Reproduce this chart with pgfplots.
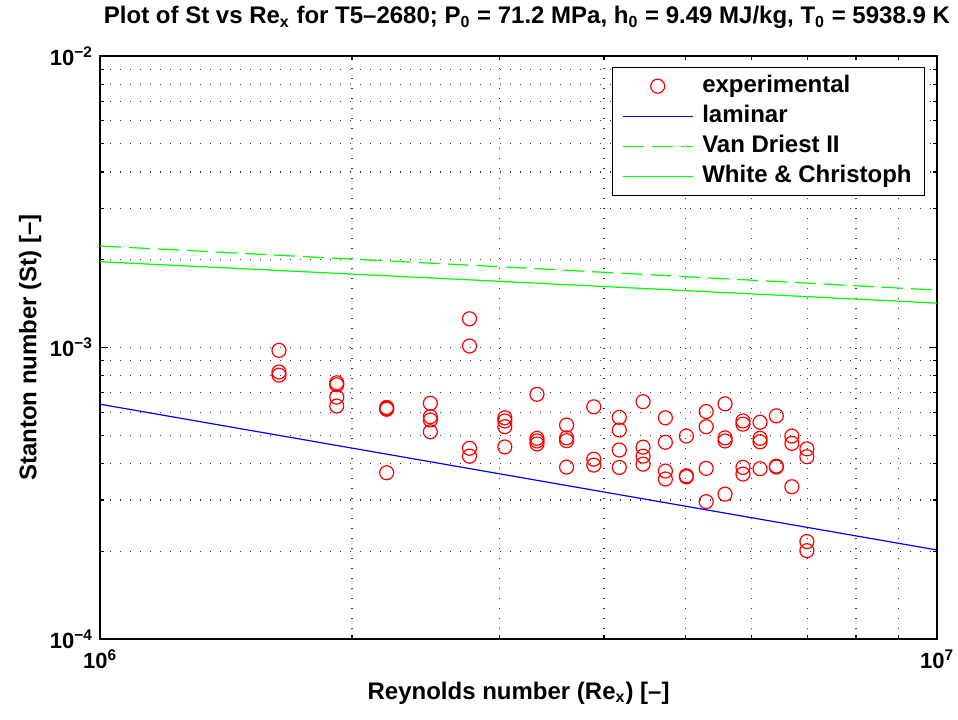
\documentclass[border=0pt]{standalone}
\usepackage{fontspec}
\setmainfont{Liberation Sans}
\usepackage{pgfplots}
\pgfplotsset{compat=1.18}
\begin{document}
\begin{tikzpicture}
\begin{axis}[
  width=418.5pt, height=291.5pt, scale only axis,
  xmode=log, ymode=log,
  xmin=1e6, xmax=1e7, ymin=1e-4, ymax=1e-2,
  xtick={1e6,1e7}, xticklabels={10\textsuperscript{6},10\textsuperscript{7}},
  ytick={1e-4,1e-3,1e-2},
  yticklabels={10\textsuperscript{−4},10\textsuperscript{−3},10\textsuperscript{−2}},
  minor xtick={2e6,3e6,4e6,5e6,6e6,7e6,8e6,9e6},
  minor ytick={2e-4,3e-4,4e-4,5e-4,6e-4,7e-4,8e-4,9e-4,2e-3,3e-3,4e-3,5e-3,6e-3,7e-3,8e-3,9e-3},
  tick label style={font=\fontsize{11}{13}\selectfont\bfseries},
  xticklabel style={yshift=-2pt},
  grid=both,
  major grid style={black!80, line width=0.6pt, dash pattern=on 0.6pt off 4.4pt},
  minor grid style={black!80, line width=0.6pt, dash pattern=on 0.6pt off 4.4pt},
  tick align=inside, major tick length=4pt, minor tick length=2pt,
  every tick/.style={black, line width=0.6pt},
  axis line style={line width=1pt},
  title={Plot of St vs Re\textsubscript{x} for T5–2680; P\textsubscript{0} = 71.2 MPa, h\textsubscript{0} = 9.49 MJ/kg, T\textsubscript{0} = 5938.9 K},
  title style={at={(axis description cs:0.51,1.045)}, anchor=center, font=\fontsize{12}{14}\selectfont\bfseries},
  xlabel={Reynolds number (Re\textsubscript{x}) [–]},
  xlabel style={at={(axis description cs:0.5,-0.0926)}, anchor=center, font=\fontsize{12}{14}\selectfont\bfseries},
  ylabel={Stanton number (St) [–]},
  ylabel style={at={(axis description cs:-0.0836,0.5)}, anchor=center, font=\fontsize{12}{14}\selectfont\bfseries},
  legend style={at={(axis description cs:0.9857,0.9817)}, anchor=north east,
    draw=black, line width=0.5pt, fill=white,
    font=\fontsize{12}{14}\selectfont\bfseries,
    inner xsep=5pt, inner ysep=2pt,
    nodes={inner sep=1.5pt, text height=9pt, text depth=3pt},
    /tikz/every odd column/.append style={column sep=3pt}},
  legend cell align=left,
  legend image code/.code={\draw[mark repeat=2,mark phase=2,#1] plot coordinates {(0pt,0pt) (17.5pt,0pt) (35pt,0pt)};},
]
\coordinate (SW) at (rel axis cs:0,0);
\addplot[only marks, mark=o, mark size=3.5pt, red, mark options={line width=0.6pt}] coordinates {
(1.636e6,9.78e-4) (1.636e6,8.24e-4) (1.636e6,8.04e-4)
(1.918e6,7.57e-4) (1.918e6,7.45e-4) (1.918e6,6.76e-4) (1.918e6,6.30e-4)
(2.200e6,6.23e-4) (2.200e6,6.18e-4) (2.200e6,6.14e-4) (2.200e6,3.72e-4)
(2.481e6,6.44e-4) (2.481e6,5.79e-4) (2.481e6,5.64e-4) (2.481e6,5.14e-4)
(2.763e6,1.255e-3) (2.763e6,1.012e-3) (2.763e6,4.51e-4) (2.763e6,4.24e-4)
(3.045e6,5.74e-4) (3.045e6,5.60e-4) (3.045e6,5.35e-4) (3.045e6,4.56e-4)
(3.327e6,6.91e-4) (3.327e6,4.88e-4) (3.327e6,4.78e-4) (3.327e6,4.67e-4)
(3.609e6,5.42e-4) (3.609e6,4.90e-4) (3.609e6,4.79e-4) (3.609e6,3.89e-4)
(3.890e6,6.26e-4) (3.890e6,4.14e-4) (3.890e6,3.95e-4)
(4.172e6,5.76e-4) (4.172e6,5.21e-4) (4.172e6,4.45e-4) (4.172e6,3.88e-4)
(4.454e6,6.52e-4) (4.454e6,4.55e-4) (4.454e6,4.24e-4) (4.454e6,3.98e-4)
(4.736e6,5.74e-4) (4.736e6,4.73e-4) (4.736e6,3.77e-4) (4.736e6,3.54e-4)
(5.018e6,4.97e-4) (5.018e6,3.63e-4) (5.018e6,3.60e-4)
(5.299e6,6.03e-4) (5.299e6,5.35e-4) (5.299e6,3.85e-4) (5.299e6,2.96e-4)
(5.581e6,6.41e-4) (5.581e6,4.90e-4) (5.581e6,4.78e-4) (5.581e6,3.14e-4)
(5.863e6,5.60e-4) (5.863e6,5.46e-4) (5.863e6,3.88e-4) (5.863e6,3.68e-4)
(6.145e6,5.54e-4) (6.145e6,4.88e-4) (6.145e6,4.75e-4) (6.145e6,3.84e-4)
(6.427e6,5.83e-4) (6.427e6,3.92e-4) (6.427e6,3.89e-4)
(6.708e6,4.97e-4) (6.708e6,4.69e-4) (6.708e6,3.33e-4)
(6.990e6,4.49e-4) (6.990e6,4.22e-4) (6.990e6,2.16e-4) (6.990e6,2.01e-4)
};
\addlegendentry{experimental}
\addplot[blue, line width=0.6pt] coordinates {(1e6,6.39e-4) (1e7,2.02e-4)};
\addlegendentry{laminar}
\addplot[green, line width=0.6pt, dash pattern=on 10.5pt off 4pt] coordinates {(1e6,2.23e-3) (3.09e6,1.885e-3) (1e7,1.574e-3)};
\addlegendentry{Van Driest II}
\addplot[green, line width=0.6pt] coordinates {(1e6,1.97e-3) (3.09e6,1.68e-3) (1e7,1.42e-3)};
\addlegendentry{White \& Christoph}
\end{axis}
\pgfresetboundingbox
\path ([shift={(-50pt,-40pt)}]SW) rectangle ([shift={(429pt,319.5pt)}]SW);
\end{tikzpicture}
\end{document}
